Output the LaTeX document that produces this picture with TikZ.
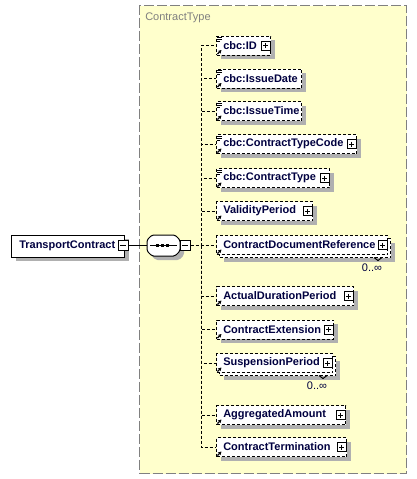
\documentclass[tikz,border=0pt]{standalone}
\usepackage{fontspec}
\setmainfont{Liberation Sans}
\usetikzlibrary{shadows,arrows.meta}
\definecolor{bgyellow}{RGB}{255,255,204}
\definecolor{txtnavy}{RGB}{0,0,64}
\definecolor{shgray}{RGB}{176,176,176}
\definecolor{framegray}{RGB}{128,128,128}
\tikzset{
  shad/.style={drop shadow={shadow xshift=3pt,shadow yshift=-3pt,fill=shgray,opacity=1}},
  framebox/.style={draw=framegray,fill=bgyellow,line width=0.75pt,dash pattern=on 7.5pt off 2.25pt,inner sep=0pt},
  ebox/.style={draw=black,fill=white,line width=0.75pt,dash pattern=on 2.25pt off 1.5pt,minimum height=14.25pt,inner sep=0pt},
  gbox/.style={draw=black,fill=white,line width=0.75pt,minimum height=16.5pt,inner sep=0pt},
  etext/.style={text=txtnavy,font=\fontsize{8.25pt}{10pt}\selectfont\bfseries,inner sep=0pt},
  lbl/.style={text=framegray,font=\fontsize{8.25pt}{10pt}\selectfont,inner sep=0pt},
  card/.style={text=txtnavy,font=\fontsize{8.25pt}{10pt}\selectfont,inner sep=0pt},
  tog/.style={draw=black,fill=white,line width=0.75pt,minimum size=6.75pt,inner sep=0pt},
  dl/.style={line width=0.75pt,dash pattern=on 2.25pt off 1.5pt},
  sl/.style={line width=0.75pt},
  refarrow/.style={line width=0.9pt,-{Stealth[length=2.6pt,width=2.8pt]}},
}
\newcommand\xel[4]{%
  \node[ebox,shad,anchor=west,minimum width={(#3-216)*0.75pt}] (#1) at (216,#2) {};
  \node[etext,anchor=west] (#1t) at (223,#2) {#4};
  \draw[refarrow] (217.5,#2+8.5) -- (221.5,#2+4.5);
}
\newcommand\xelm[4]{%
  \node[ebox,shad,anchor=west,minimum width={(#3-216)*0.75pt}] (#1b) at (219,#2+3) {};
  \node[ebox,anchor=west,minimum width={(#3-216)*0.75pt}] (#1) at (216,#2) {};
  \node[etext,anchor=west] (#1t) at (223,#2) {#4};
  \draw[refarrow] (217.5,#2+8.5) -- (221.5,#2+4.5);
  \draw[sl] (#3-13,#2+12.5) -- (#3-9,#2+15.5) -- (#3-5,#2+12.5);
  \node[card] (#1c) at (#3-15,#2+23) {0..∞};
}
\newcommand\simpleicon[1]{%
  \draw[line width=0.6pt] (217,#1-8) -- (222,#1-8) (217,#1-6) -- (222,#1-6) (217,#1-4) -- (220,#1-4);
}
\newcommand\plusbox[3]{%
  \node[tog] (#1p) at (#3-4.5,#2) {};
  \draw[sl] (#1p.center) ++(-2.5,0) -- ++(5,0);
  \draw[sl] (#1p.center) ++(0,-2.5) -- ++(0,5);
}
\begin{document}
\begin{tikzpicture}[x=0.75pt,y=-0.75pt]
\useasboundingbox (0,0) rectangle (417,479);
% complex type frame
\node[framebox,anchor=north west,minimum width={267*0.75pt},minimum height={468*0.75pt}] (ct) at (139,5) {};
\node[lbl,anchor=west] (ctl) at (145,18) {ContractType};
% global element
\node[gbox,shad,anchor=west,minimum width={(124-11)*0.75pt}] (tc) at (11,246) {};
\node[etext,anchor=west] (tct) at (19,246) {TransportContract};
\node[tog,minimum size=7.5pt] (tcm) at (123,245.5) {};
\draw[sl] (tcm.center) ++(-3,0) -- ++(6,0);
% sequence compositor
\path[draw=black,fill=white,line width=0.75pt,rounded corners=1.2pt,shad]
  (152,235) -- (175,235) -- (180,240) -- (180,251) -- (175,256) -- (152,256) -- (147,251) -- (147,240) -- cycle;
\node[inner sep=0pt,minimum width={33*0.75pt},minimum height={21*0.75pt}] (seq) at (163.5,245.5) {};
\draw[sl] (150,245.5) -- (177,245.5);
\fill (155.5,244) rectangle ++(3,3);
\fill (160.5,244) rectangle ++(3,3);
\fill (165.5,244) rectangle ++(3,3);
\node[tog,minimum size=7.5pt] (seqm) at (185,245.5) {};
\draw[sl] (seqm.center) ++(-3,0) -- ++(6,0);
\draw[sl] (tcm.east) -- (seq.west);
\coordinate (spine) at (201,245.5);
\draw[dl] (seqm.east) -- (spine);
% elements
\xel{e1}{45.5}{270}{cbc:ID}\simpleicon{45.5}\plusbox{e1}{45.5}{270}
\xel{e2}{78.5}{301}{cbc:IssueDate}\simpleicon{78.5}
\xel{e3}{111}{301}{cbc:IssueTime}\simpleicon{111}
\xel{e4}{144}{356}{cbc:ContractTypeCode}\simpleicon{144}\plusbox{e4}{144}{356}
\xel{e5}{178}{329}{cbc:ContractType}\simpleicon{178}\plusbox{e5}{178}{329}
\xel{e6}{211}{312}{ValidityPeriod}\plusbox{e6}{211}{312}
\xelm{e7}{245}{387}{ContractDocumentReference}\plusbox{e7}{245}{387}
\xel{e8}{296}{353}{ActualDurationPeriod}\plusbox{e8}{296}{353}
\xel{e9}{329.5}{333}{ContractExtension}\plusbox{e9}{329.5}{333}
\xelm{e10}{363}{332}{SuspensionPeriod}\plusbox{e10}{363}{332}
\xel{e11}{415}{345}{AggregatedAmount}\plusbox{e11}{415}{345}
\xel{e12}{447}{346}{ContractTermination}\plusbox{e12}{447}{346}
% connectors
\foreach \n in {e1,e2,e3,e4,e5,e6,e7,e8,e9,e10,e11,e12}{
  \draw[dl] (spine) |- (\n.west);
}
\end{tikzpicture}
\end{document}
